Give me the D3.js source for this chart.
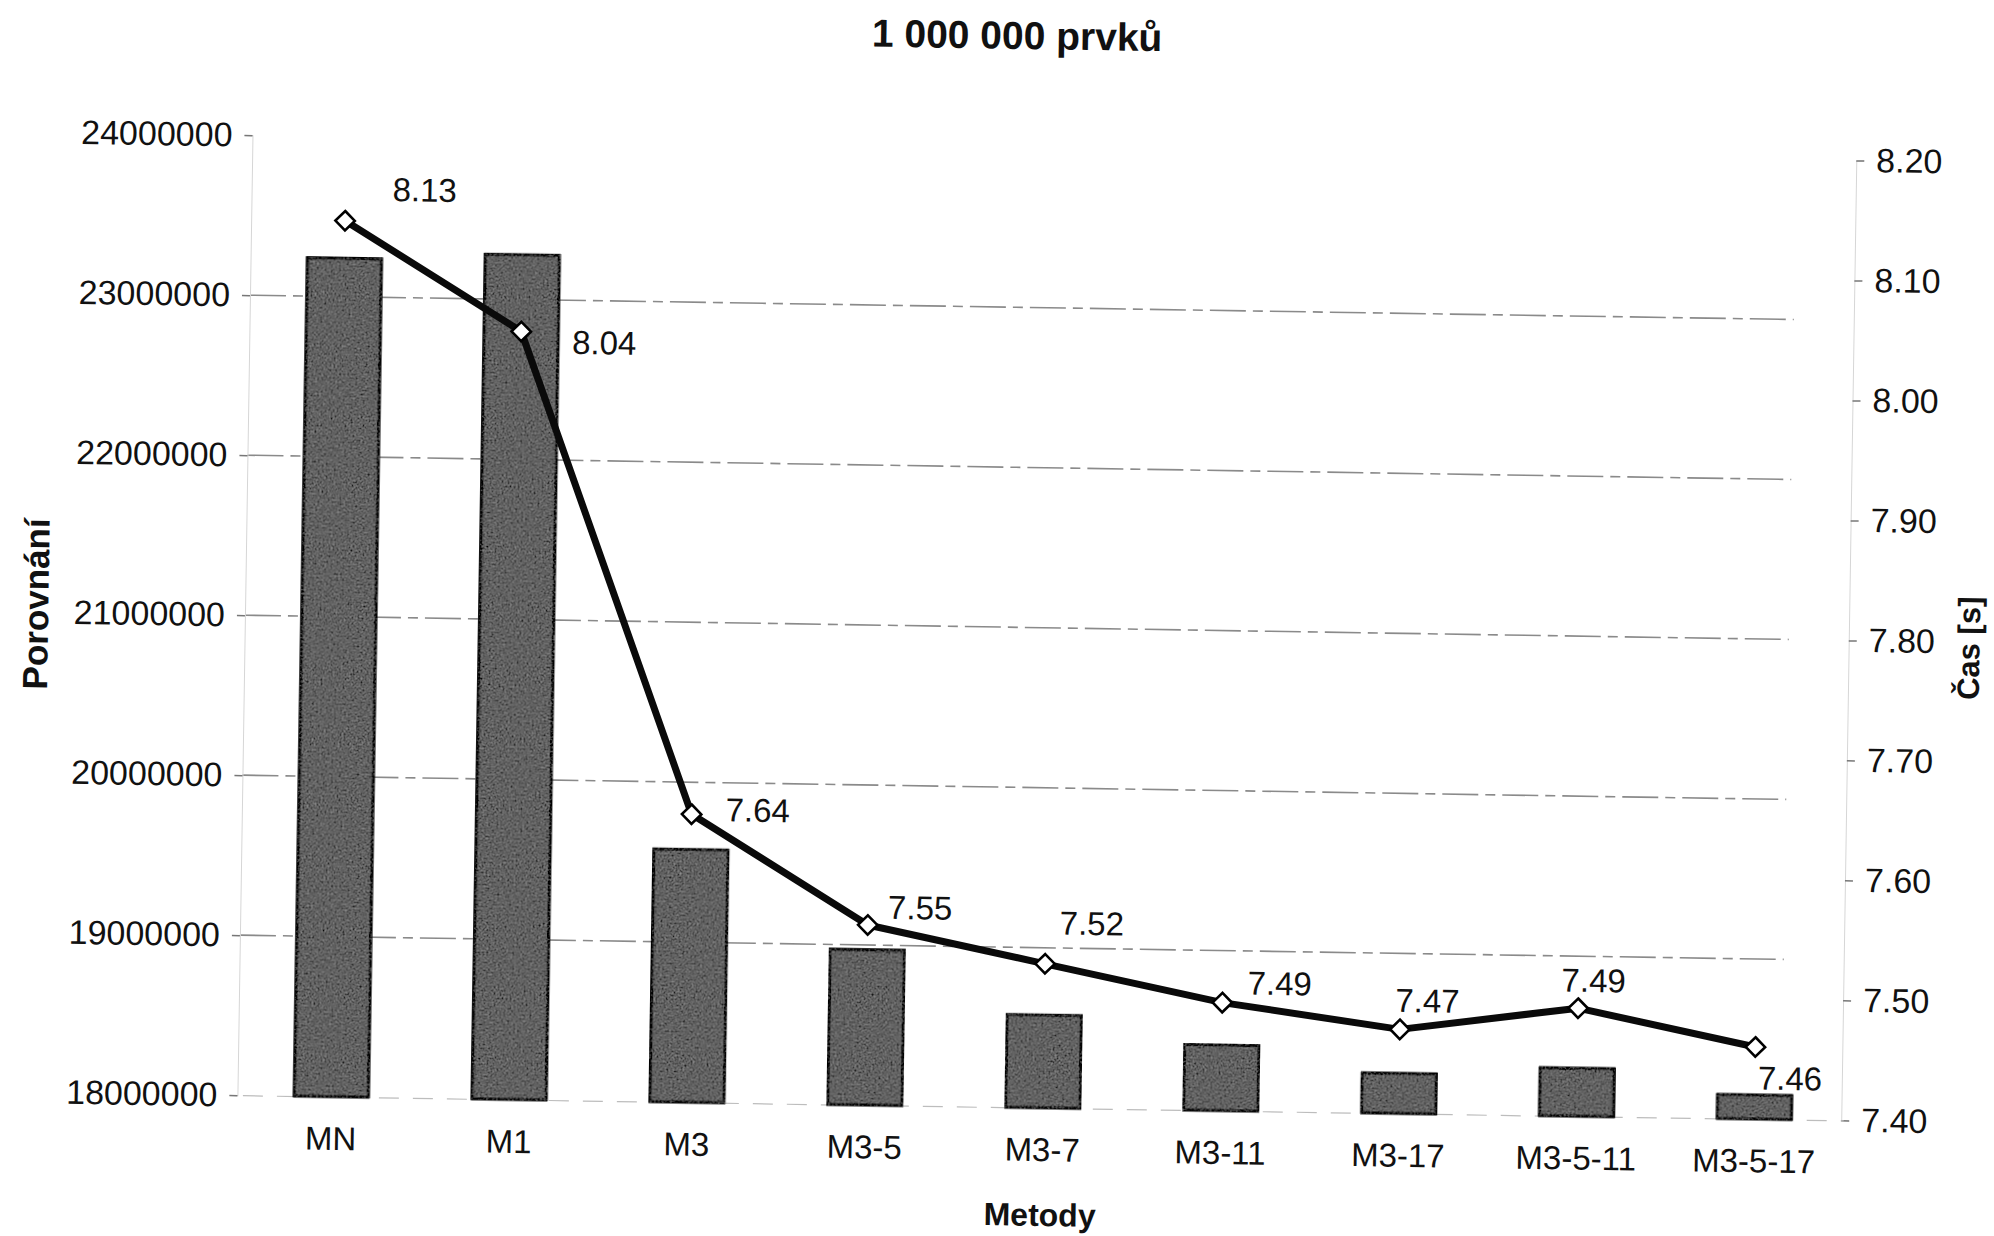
<!DOCTYPE html>
<html>
<head>
<meta charset="utf-8">
<script src="https://cdn.jsdelivr.net/npm/d3@7"></script>
<style>
  html, body { margin: 0; padding: 0; background: #fff; }
  svg { display: block; }
  text { font-family: "Liberation Sans", Arial, sans-serif; fill: #111; }
</style>
</head>
<body>
<svg id="chart" width="1994" height="1236"></svg>
<script>
// Methods compared
const categories = ["MN", "M1", "M3", "M3-5", "M3-7", "M3-11", "M3-17", "M3-5-11", "M3-5-17"];
// Number of comparisons (bars, left axis)
const comparisons = [23240000, 23280000, 19580000, 18970000, 18580000, 18410000, 18250000, 18300000, 18150000];
// Run time in seconds (line, right axis)
const times = [8.13, 8.04, 7.64, 7.55, 7.52, 7.49, 7.47, 7.49, 7.46];
// Axis ticks
const leftTicks = [18000000, 19000000, 20000000, 21000000, 22000000, 23000000, 24000000];
const rightTicks = [7.40, 7.50, 7.60, 7.70, 7.80, 7.90, 8.00, 8.10, 8.20];

// Hand-placed offsets of the value labels relative to their markers
const labelOffsets = [[47, -32], [51, 10], [34, -5], [20, -18], [14, -41], [25, -20], [-5, -29], [-17, -28], [3, 31]];

const W = 1994, H = 1236;
const plot = { left: 245, right: 1849, top: 147, bottom: 1107 };

const svg = d3.select("#chart");
svg.append("rect").attr("width", W).attr("height", H).attr("fill", "#fff");

// grain texture for the bars
const defs = svg.append("defs");
const f = defs.append("filter").attr("id", "grain").attr("x", "-5%").attr("y", "-5%").attr("width", "110%").attr("height", "110%");
f.append("feTurbulence").attr("type", "fractalNoise").attr("baseFrequency", "0.5").attr("numOctaves", 2).attr("seed", 7).attr("result", "noise");
f.append("feColorMatrix").attr("in", "noise").attr("type", "matrix")
  .attr("values", "0.33 0.33 0.33 0 0  0.33 0.33 0.33 0 0  0.33 0.33 0.33 0 0  0 0 0 0 1").attr("result", "gray");
f.append("feComposite").attr("in", "gray").attr("in2", "SourceGraphic").attr("operator", "in").attr("result", "clipped");
f.append("feComposite").attr("in", "SourceGraphic").attr("in2", "clipped").attr("operator", "arithmetic")
  .attr("k1", 0).attr("k2", 1).attr("k3", 0.6).attr("k4", -0.3);

// whole sheet is tilted slightly
const root = svg.append("g").attr("transform", "rotate(0.9 997 618)");

const x = d3.scaleBand().domain(categories).range([plot.left + 5, plot.right + 2]).padding(0);
const yL = d3.scaleLinear().domain([18000000, 24000000]).range([plot.bottom, plot.top]);
const yR = d3.scaleLinear().domain([7.40, 8.20]).range([plot.bottom, plot.top]);

// gridlines
root.append("g").selectAll("line")
  .data(leftTicks.filter(d => d > 18000000 && d < 24000000))
  .join("line")
  .attr("x1", plot.left).attr("x2", plot.right - 60)
  .attr("y1", d => yL(d)).attr("y2", d => yL(d))
  .attr("stroke", "#8a8a8a").attr("stroke-width", 1.6)
  .attr("stroke-dasharray", "36 7 10 7");

// left axis
const gL = root.append("g").attr("transform", `translate(${plot.left},0)`)
  .call(d3.axisLeft(yL).tickValues(leftTicks).tickFormat(d3.format("d")).tickSize(8).tickPadding(12));
gL.select(".domain").attr("stroke", "#d6d6d6").attr("stroke-width", 1);
gL.selectAll(".tick line").attr("stroke", "#777").attr("stroke-width", 1.5);
gL.selectAll(".tick text").style("font-size", "34px").style("font-family", "'Liberation Sans', Arial, sans-serif").attr("fill", "#111");

// right axis
const gR = root.append("g").attr("transform", `translate(${plot.right},0)`)
  .call(d3.axisRight(yR).tickValues(rightTicks).tickFormat(d3.format(".2f")).tickSize(8).tickPadding(12));
gR.select(".domain").attr("stroke", "#d6d6d6").attr("stroke-width", 1);
gR.selectAll(".tick line").attr("stroke", "#777").attr("stroke-width", 1.5);
gR.selectAll(".tick text").style("font-size", "34px").style("font-family", "'Liberation Sans', Arial, sans-serif").attr("fill", "#111");

// category axis
const gB = root.append("g").attr("transform", `translate(0,${plot.bottom})`)
  .call(d3.axisBottom(x).tickSize(0).tickPadding(30));
gB.select(".domain").attr("stroke", "#bdbdbd").attr("stroke-width", 1.2).attr("stroke-dasharray", "20 14");
gB.selectAll(".tick text").style("font-size", "33px").style("font-family", "'Liberation Sans', Arial, sans-serif").attr("fill", "#111");

// bars
const barW = x.bandwidth() * 0.417;
root.append("g").selectAll("rect")
  .data(categories.map((c, i) => ({ c, v: comparisons[i] })))
  .join("rect")
  .attr("x", d => x(d.c) + (x.bandwidth() - barW) / 2)
  .attr("width", barW)
  .attr("y", d => yL(d.v))
  .attr("height", d => yL(18000000) - yL(d.v))
  .attr("fill", "#626262")
  .attr("stroke", "#111").attr("stroke-width", 3)
  .attr("filter", "url(#grain)");

// time line
const pts = categories.map((c, i) => ({ c, v: times[i], i }));
const cx = d => x(d.c) + x.bandwidth() / 2;
root.append("path")
  .datum(pts)
  .attr("d", d3.line().x(cx).y(d => yR(d.v)))
  .attr("fill", "none").attr("stroke", "#0a0a0a").attr("stroke-width", 7)
  .attr("stroke-linejoin", "round");

// diamond markers
root.append("g").selectAll("path")
  .data(pts)
  .join("path")
  .attr("transform", d => `translate(${cx(d)},${yR(d.v)})`)
  .attr("d", d3.symbol().type(d3.symbolDiamond2).size(240))
  .attr("fill", "#fff").attr("stroke", "#000").attr("stroke-width", 2.6);

// value labels
root.append("g").selectAll("text")
  .data(pts)
  .join("text")
  .attr("x", d => cx(d) + labelOffsets[d.i][0])
  .attr("y", d => yR(d.v) + labelOffsets[d.i][1])
  .attr("dy", "0.35em")
  .style("font-size", "33px")
  .text(d => d3.format(".2f")(d.v));

// titles
root.append("text")
  .attr("x", 1008).attr("y", 35).attr("dy", "0.35em")
  .attr("text-anchor", "middle")
  .style("font-size", "39px").style("font-weight", "bold")
  .text("1 000 000 prvků");

root.append("text")
  .attr("x", 1049).attr("y", 1214).attr("dy", "0.35em")
  .attr("text-anchor", "middle")
  .style("font-size", "32px").style("font-weight", "bold")
  .text("Metody");

root.append("text")
  .attr("transform", "translate(36,619) rotate(-90)")
  .attr("dy", "0.35em")
  .attr("text-anchor", "middle")
  .style("font-size", "35px").style("font-weight", "bold")
  .text("Porovnání");

root.append("text")
  .attr("transform", "translate(1969,633) rotate(-90)")
  .attr("dy", "0.35em")
  .attr("text-anchor", "middle")
  .style("font-size", "31px").style("font-weight", "bold")
  .text("Čas [s]");
</script>
</body>
</html>
